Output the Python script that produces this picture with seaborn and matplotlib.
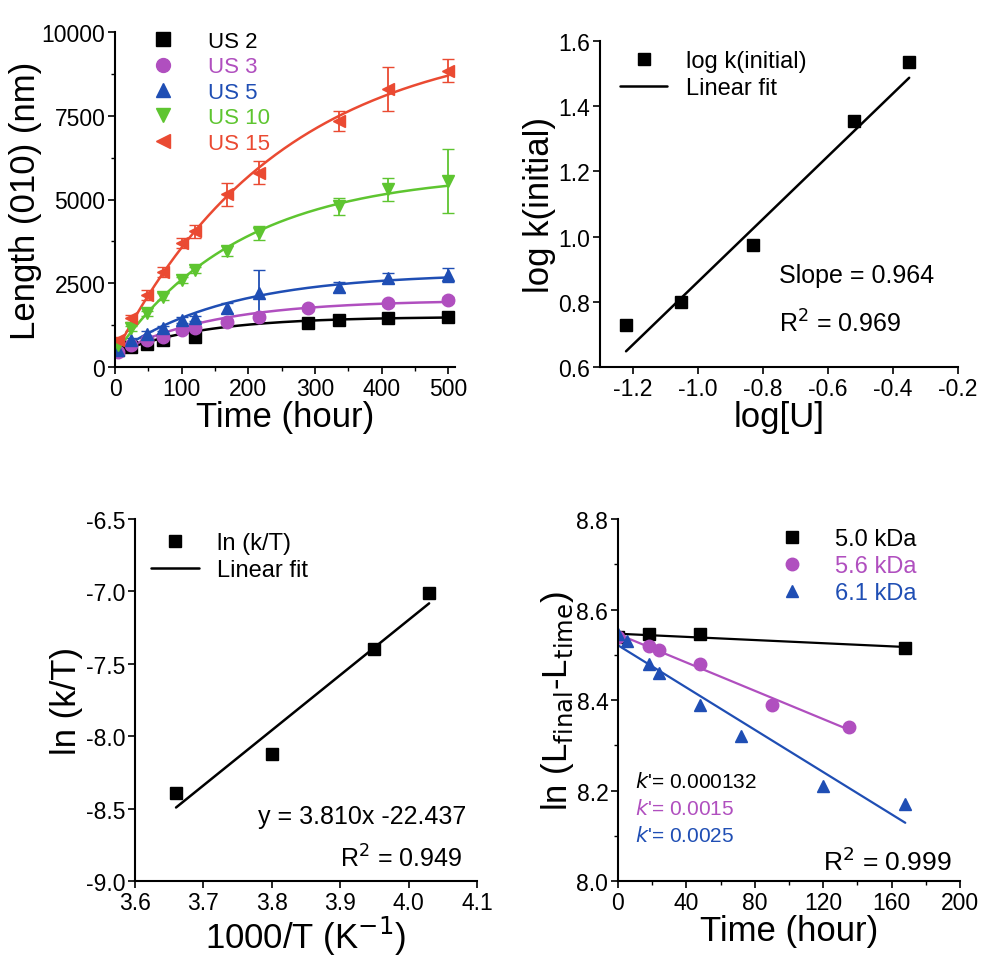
import numpy as np
import matplotlib
matplotlib.use("Agg")
import matplotlib.pyplot as plt
import seaborn as sns

sns.set_theme(style="ticks")
plt.rcParams['font.family'] = ['Liberation Sans', 'DejaVu Sans']
plt.rcParams['axes.unicode_minus'] = False
plt.rcParams['text.color'] = 'black'
plt.rcParams['axes.labelcolor'] = 'black'
plt.rcParams['xtick.color'] = 'black'
plt.rcParams['ytick.color'] = 'black'
plt.rcParams['axes.edgecolor'] = 'black'

# panel A: length vs time
us_names = ['US 2', 'US 3', 'US 5', 'US 10', 'US 15']
us_colors = ['black', '#b04fbf', '#1f4eb4', '#5ec530', '#ea4a32']
us_markers = ['s', 'o', '^', 'v', '<']
us_t = [
    [5, 24, 48, 72, 120, 290, 336, 410, 500],
    [5, 24, 48, 72, 100, 120, 168, 216, 290, 410, 500],
    [5, 24, 48, 72, 100, 120, 168, 216, 336, 410, 500],
    [5, 24, 48, 72, 100, 120, 168, 216, 336, 410, 500],
    [5, 24, 48, 72, 100, 120, 168, 216, 336, 410, 500],
]
us_L = [
    [500, 600, 700, 800, 900, 1300, 1400, 1450, 1500],
    [450, 650, 800, 900, 1100, 1150, 1350, 1500, 1750, 1900, 2000],
    [500, 800, 1000, 1150, 1400, 1450, 1750, 2200, 2400, 2650, 2750],
    [650, 1150, 1600, 2100, 2600, 2900, 3450, 4000, 4800, 5300, 5550],
    [800, 1450, 2150, 2850, 3700, 4050, 5150, 5800, 7350, 8300, 8850],
]
us_err = [
    [60, 60, 60, 60, 80, 80, 80, 80, 80],
    [60, 60, 60, 60, 80, 80, 80, 80, 80, 80, 80],
    [80, 80, 80, 80, 80, 80, 150, 700, 150, 150, 200],
    [80, 80, 80, 100, 100, 100, 150, 200, 250, 350, 950],
    [100, 100, 150, 150, 150, 200, 350, 350, 300, 650, 350],
]
# saturating fit parameters: L0, Lmax, tau
us_fit = [(400, 1500, 130), (400, 2000, 150), (400, 2800, 170),
          (400, 5800, 190), (400, 10000, 250)]

# panel B
logU = [-1.22, -1.05, -0.83, -0.52, -0.35]
logk = [0.73, 0.80, 0.975, 1.355, 1.535]

# panel C
invT = [3.66, 3.80, 3.95, 4.03]
lnkT = [-8.39, -8.12, -7.40, -7.01]

# panel D
kda_names = ['5.0 kDa', '5.6 kDa', '6.1 kDa']
kda_colors = ['black', '#b04fbf', '#1f4eb4']
kda_markers = ['s', 'o', '^']
kda_t = [[0, 18, 48, 168],
         [0, 18, 24, 48, 90, 135],
         [0, 5, 18, 24, 48, 72, 120, 168]]
kda_y = [[8.54, 8.545, 8.545, 8.515],
         [8.54, 8.52, 8.51, 8.48, 8.39, 8.34],
         [8.545, 8.53, 8.48, 8.46, 8.39, 8.32, 8.21, 8.17]]
kda_k = ["0.000132", "0.0015", "0.0025"]

LBL = 25
TCK = 16.5
W, H = 983, 970
fig = plt.figure(figsize=(9.83, 9.7), dpi=100)

def axpx(x0, y0, x1, y1):
    return fig.add_axes([x0 / W, 1 - y1 / H, (x1 - x0) / W, (y1 - y0) / H])

def style(ax):
    sns.despine(ax=ax)
    ax.tick_params(labelsize=TCK, length=5, width=1.2, direction='out', pad=2)
    ax.tick_params(which='minor', length=3, width=1)
    for s in ax.spines.values():
        s.set_linewidth(1.5)

# A
ax = axpx(115, 33, 455, 368)
tt = np.linspace(0, 500, 200)
for n, c, m, t, L, e, (L0, A, tau) in zip(us_names, us_colors, us_markers, us_t, us_L, us_err, us_fit):
    ax.plot(tt, A - (A - L0) * np.exp(-tt / tau), color=c, lw=1.8)
    ax.errorbar(t, L, yerr=e, fmt=m, color=c, ms=9, capsize=4, elinewidth=1.3)
    ax.plot([], [], m, color=c, ms=10, label=n)
ax.set_xlim(0, 510)
ax.set_ylim(0, 10000)
ax.set_xticks([0, 100, 200, 300, 400, 500])
ax.set_xticks(range(50, 500, 100), minor=True)
ax.set_yticks([0, 2500, 5000, 7500, 10000])
ax.set_yticks([1250, 3750, 6250, 8750], minor=True)
ax.set_xlabel('Time (hour)', fontsize=LBL, labelpad=0)
ax.set_ylabel('Length (010) (nm)', fontsize=LBL, labelpad=0)
leg = ax.legend(loc='upper left', fontsize=16, frameon=False, handletextpad=1.0,
                borderaxespad=0, labelspacing=0.2, bbox_to_anchor=(0.05, 1.03))
for txt, c in zip(leg.get_texts(), us_colors):
    txt.set_color(c)
style(ax)

# B
ax = axpx(600, 42, 958, 368)
p = np.polyfit(logU, logk, 1)
xs = np.array([logU[0], logU[-1]])
ax.plot(logU, logk, 's', color='black', ms=9, label='log k(initial)')
ax.plot(xs, np.polyval(p, xs) - 0.02, color='black', lw=1.8, label='Linear fit')
ax.set_xlim(-1.3, -0.2)
ax.set_ylim(0.6, 1.6)
ax.set_xticks([-1.2, -1.0, -0.8, -0.6, -0.4, -0.2])
ax.set_xticklabels(['-1.2', '-1.0', '-0.8', '-0.6', '-0.4', '-0.2'])
ax.set_xlabel('log[U]', fontsize=LBL, labelpad=0)
ax.set_ylabel('log k(initial)', fontsize=LBL, labelpad=2)
ax.legend(loc='upper left', fontsize=17, frameon=False, borderaxespad=0.0,
          bbox_to_anchor=(0.03, 1.0), labelspacing=0.2)
ax.text(0.5, 0.26, 'Slope = 0.964', transform=ax.transAxes, fontsize=18)
ax.text(0.5, 0.11, r'R$^2$ = 0.969', transform=ax.transAxes, fontsize=18)
style(ax)

# C
ax = axpx(135, 520, 477, 882)
xs = np.array([invT[0], invT[-1]])
ax.plot(invT, lnkT, 's', color='black', ms=9, label='ln (k/T)')
ax.plot(xs, 3.810 * xs - 22.437, color='black', lw=1.8, label='Linear fit')
ax.set_xlim(3.6, 4.1)
ax.set_ylim(-9.0, -6.5)
ax.set_xticks([3.6, 3.7, 3.8, 3.9, 4.0, 4.1])
ax.set_yticks([-9.0, -8.5, -8.0, -7.5, -7.0, -6.5])
ax.set_xlabel('1000/T (K$^{-1}$)', fontsize=LBL, labelpad=0)
ax.set_ylabel('ln (k/T)', fontsize=LBL, labelpad=2)
ax.legend(loc='upper left', fontsize=17, frameon=False, borderaxespad=0.0,
          bbox_to_anchor=(0.02, 0.99), labelspacing=0.2)
ax.text(0.36, 0.16, 'y = 3.810x -22.437', transform=ax.transAxes, fontsize=18)
ax.text(0.6, 0.04, r'R$^2$ = 0.949', transform=ax.transAxes, fontsize=18)
style(ax)

# D
ax = axpx(618, 520, 960, 882)
for n, c, m, t, y in zip(kda_names, kda_colors, kda_markers, kda_t, kda_y):
    q = np.polyfit(t, y, 1)
    xs = np.array([0, t[-1]])
    ax.plot(xs, np.polyval(q, xs), color=c, lw=1.6)
    ax.plot(t, y, m, color=c, ms=9, ls='none', label=n)
ax.set_xlim(0, 200)
ax.set_ylim(8.0, 8.8)
ax.set_xticks([0, 40, 80, 120, 160, 200])
ax.set_xticks(range(20, 200, 40), minor=True)
ax.set_yticks([8.0, 8.2, 8.4, 8.6, 8.8])
ax.set_yticks([8.1, 8.3, 8.5, 8.7], minor=True)
ax.set_xlabel('Time (hour)', fontsize=LBL, labelpad=0)
ax.set_ylabel(r'ln (L$_{\mathrm{final}}$-L$_{\mathrm{time}}$)', fontsize=LBL, labelpad=0)
leg = ax.legend(loc='upper right', fontsize=17, frameon=False, borderaxespad=0.0,
                labelspacing=0.2, bbox_to_anchor=(0.9, 1.0))
for txt, c in zip(leg.get_texts(), kda_colors):
    txt.set_color(c)
for i, (k, c) in enumerate(zip(kda_k, kda_colors)):
    ax.text(0.05, 0.26 - i * 0.075, r"$k$'= " + k, color=c, transform=ax.transAxes, fontsize=15)
ax.text(0.6, 0.03, r'R$^2$ = 0.999', transform=ax.transAxes, fontsize=19)
style(ax)

fig.savefig('out.png', dpi=100)
